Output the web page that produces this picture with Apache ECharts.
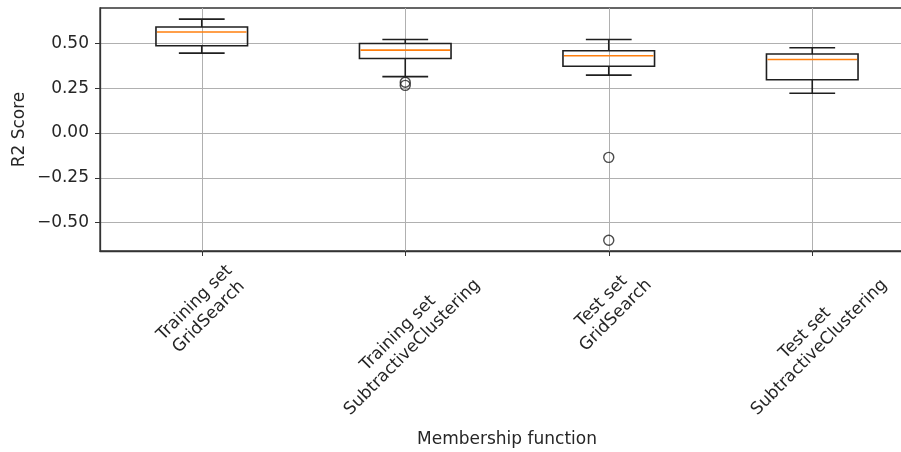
<!DOCTYPE html>
<html>
<head>
<meta charset="utf-8">
<script src="https://cdn.jsdelivr.net/npm/echarts@6/dist/echarts.min.js"></script>
<style>
  html, body { margin: 0; padding: 0; background: #ffffff; }
  #chart { width: 901px; height: 452px; }
</style>
</head>
<body>
<div id="chart"></div>
<script>
// Groups along the x axis (two-line labels)
const categories = [
  'Training set\nGridSearch',
  'Training set\nSubtractiveClustering',
  'Test set\nGridSearch',
  'Test set\nSubtractiveClustering'
];
// Five-number summaries of the R2 scores, one entry per group
const whiskerLow  = [0.446, 0.315, 0.323, 0.222];
const quartile1   = [0.487, 0.416, 0.373, 0.297];
const medians     = [0.564, 0.463, 0.431, 0.410];
const quartile3   = [0.592, 0.500, 0.459, 0.441];
const whiskerHigh = [0.636, 0.522, 0.522, 0.476];
// Fliers: [group index, value]
const outliers = [[1, 0.283], [1, 0.266], [2, -0.136], [2, -0.599]];
// Y tick values
const yTicks = [-0.5, -0.25, 0, 0.25, 0.5];

const FONT = '"DejaVu Sans", sans-serif';
const FS = 17;
const LINE_H = 20;
const TEXT = '#262626';
const INK = '#1f1f1f';
const LABEL_GAP = 10;

const measureCtx = document.createElement('canvas').getContext('2d');
measureCtx.font = FS + 'px "DejaVu Sans"';
function blockWidth(text) {
  return Math.max.apply(null, text.split('\n').map(function (s) { return measureCtx.measureText(s).width; }));
}

const boxData = categories.map(function (c, i) {
  return [i, whiskerLow[i], quartile1[i], medians[i], quartile3[i], whiskerHigh[i]];
});
const labelData = categories.map(function (c, i) { return [i, 0]; });

function renderBox(params, api) {
  const i = api.value(0);
  const band = api.size([1, 0])[0];
  const boxW = band * 0.45;
  const capW = boxW * 0.5;
  const yLow = api.coord([i, api.value(1)])[1];
  const yQ1 = api.coord([i, api.value(2)])[1];
  const pMed = api.coord([i, api.value(3)]);
  const yQ3 = api.coord([i, api.value(4)])[1];
  const yHigh = api.coord([i, api.value(5)])[1];
  const x = pMed[0];
  const ink = { stroke: INK, lineWidth: 1.6, fill: null };
  return {
    type: 'group',
    children: [
      { type: 'line', shape: { x1: x, y1: yQ1, x2: x, y2: yLow }, style: ink },
      { type: 'line', shape: { x1: x, y1: yQ3, x2: x, y2: yHigh }, style: ink },
      { type: 'line', shape: { x1: x - capW / 2, y1: yLow, x2: x + capW / 2, y2: yLow }, style: ink },
      { type: 'line', shape: { x1: x - capW / 2, y1: yHigh, x2: x + capW / 2, y2: yHigh }, style: ink },
      { type: 'rect', shape: { x: x - boxW / 2, y: yQ3, width: boxW, height: yQ1 - yQ3 }, style: { stroke: INK, lineWidth: 1.6, fill: 'none' } },
      { type: 'line', shape: { x1: x - boxW / 2 + 1, y1: pMed[1], x2: x + boxW / 2 - 1, y2: pMed[1] }, style: { stroke: '#ff7f0e', lineWidth: 1.6 } }
    ]
  };
}

// Category labels rotated 45 degrees, lines centred, bounding box hung centred under each tick.
function renderTickLabel(params, api) {
  const i = api.value(0);
  const x = api.coord([i, 0])[0];
  const cs = params.coordSys;
  const text = categories[i];
  const L = blockWidth(text);
  const H = text.split('\n').length * LINE_H;
  const cy = cs.y + cs.height + LABEL_GAP + Math.SQRT1_2 * 0.5 * (L + H);
  return {
    type: 'text',
    x: x,
    y: cy,
    rotation: Math.PI / 4,
    silent: true,
    style: {
      text: text,
      fill: TEXT,
      fontSize: FS,
      fontFamily: FONT,
      lineHeight: LINE_H,
      align: 'center',
      verticalAlign: 'middle'
    }
  };
}

const chart = echarts.init(document.getElementById('chart'), null, { renderer: 'canvas' });
chart.setOption({
  animation: false,
  backgroundColor: '#ffffff',
  textStyle: { fontFamily: FONT },
  grid: {
    left: 100, top: 8, width: 814, height: 243,
    containLabel: false, outerBoundsMode: 'none',
    show: true, borderColor: '#333333', borderWidth: 1.3, backgroundColor: 'transparent'
  },
  xAxis: {
    type: 'category',
    data: categories,
    boundaryGap: true,
    name: 'Membership function',
    nameLocation: 'middle',
    nameGap: 180,
    nameMoveOverlap: false,
    nameTextStyle: { fontSize: FS, color: TEXT, fontFamily: FONT },
    axisLine: { show: true, onZero: false, lineStyle: { color: '#333333', width: 1.3 } },
    axisTick: { show: true, alignWithLabel: true, length: 5, lineStyle: { color: '#333333', width: 1 } },
    axisLabel: { show: false },
    splitLine: { show: true, alignWithLabel: true, lineStyle: { color: '#b0b0b0', width: 1 } }
  },
  yAxis: {
    type: 'value',
    min: -0.659, max: 0.698,
    name: 'R2 Score',
    nameLocation: 'middle',
    nameGap: 72,
    nameMoveOverlap: false,
    nameTextStyle: { fontSize: FS, color: TEXT, fontFamily: FONT },
    axisLine: { show: true, lineStyle: { color: '#333333', width: 1.3 } },
    axisTick: { show: true, customValues: yTicks, length: 5, lineStyle: { color: '#333333', width: 1 } },
    axisLabel: {
      customValues: yTicks, margin: 11, fontSize: FS, color: TEXT, fontFamily: FONT,
      formatter: function (v) { return (v < 0 ? '\u2212' : '') + Math.abs(v).toFixed(2); }
    },
    splitLine: { show: true, lineStyle: { color: '#b0b0b0', width: 1 } }
  },
  series: [
    {
      type: 'custom',
      name: 'R2',
      renderItem: renderBox,
      data: boxData,
      encode: { x: 0, y: [1, 2, 3, 4, 5] },
      z: 3
    },
    {
      type: 'scatter',
      name: 'Outliers',
      data: outliers,
      symbol: 'circle',
      symbolSize: 10,
      itemStyle: { color: 'rgba(0,0,0,0)', borderColor: INK, borderWidth: 1.4 },
      z: 4
    },
    {
      type: 'custom',
      name: 'Category labels',
      renderItem: renderTickLabel,
      data: labelData,
      encode: { x: 0, y: 1 },
      clip: false,
      silent: true,
      z: 5
    }
  ]
});
</script>
</body>
</html>
